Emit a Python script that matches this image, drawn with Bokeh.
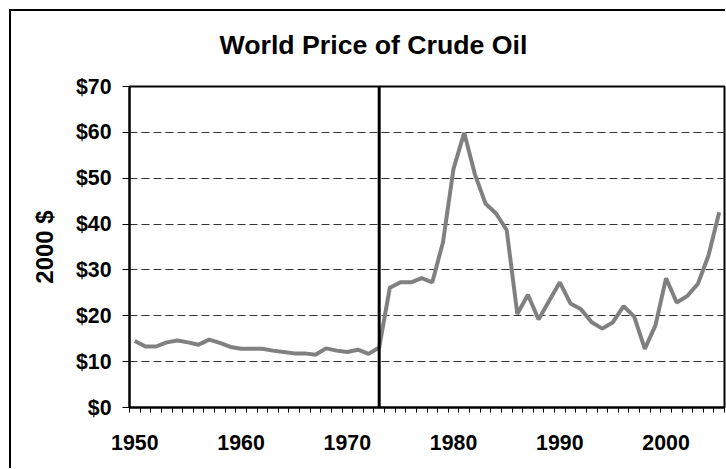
from bokeh.plotting import figure
from bokeh.models import (FixedTicker, Span, Range1d, InlineStyleSheet,
                          PrintfTickFormatter, ColumnDataSource)
from bokeh.embed import file_html
from bokeh.resources import INLINE

title_text = "World Price of Crude Oil"
y_label = "2000 $"

years = [1950, 1951, 1952, 1953, 1954, 1955, 1956, 1957, 1958, 1959,
         1960, 1961, 1962, 1963, 1964, 1965, 1966, 1967, 1968, 1969,
         1970, 1971, 1972, 1973, 1974, 1975, 1976, 1977, 1978, 1979,
         1980, 1981, 1982, 1983, 1984, 1985, 1986, 1987, 1988, 1989,
         1990, 1991, 1992, 1993, 1994, 1995, 1996, 1997, 1998, 1999,
         2000, 2001, 2002, 2003, 2004, 2005]
price = [14.5, 13.3, 13.3, 14.2, 14.6, 14.2, 13.7, 14.8, 14.1, 13.2,
         12.8, 12.8, 12.8, 12.4, 12.1, 11.8, 11.8, 11.5, 12.9, 12.4,
         12.1, 12.6, 11.7, 13.1, 26.1, 27.3, 27.3, 28.2, 27.3, 36.0,
         52.1, 59.9, 50.9, 44.5, 42.3, 38.7, 20.4, 24.6, 19.2, 23.3,
         27.3, 22.7, 21.4, 18.6, 17.2, 18.6, 22.1, 19.8, 12.8, 17.9,
         28.2, 22.9, 24.3, 27.0, 33.2, 42.6]
label_years = [1950, 1960, 1970, 1980, 1990, 2000]
y_ticks = [0, 10, 20, 30, 40, 50, 60, 70]
event_year = 1973

FONT = "Liberation Sans"

src = ColumnDataSource(data=dict(year=years, price=price))

# outer chart border: two separate strokes, top edge and left edge
border_css = InlineStyleSheet(css="""
:host { position: relative; }
:host::before {
  content: "";
  position: absolute;
  left: 9px; top: 9px;
  width: 716px; height: 2px;
  background: #000;
  pointer-events: none;
  z-index: 100;
}
:host::after {
  content: "";
  position: absolute;
  left: 9px; top: 9px;
  width: 2px; height: 459px;
  background: #000;
  pointer-events: none;
  z-index: 100;
}
""")

p = figure(width=726, height=469, output_backend="svg", toolbar_location=None,
           x_range=Range1d(years[0] - 0.5, years[-1] + 0.5),
           y_range=Range1d(y_ticks[0], y_ticks[-1]),
           min_border_left=129, min_border_right=2,
           min_border_top=86, min_border_bottom=62,
           stylesheets=[border_css])

p.title.text = title_text
p.title.align = "left"
p.title.offset = 90
p.title.standoff = 53
p.title.text_font = FONT
p.title.text_font_style = "bold"
p.title.text_font_size = "26.7px"
p.title.text_color = "black"

p.background_fill_color = "white"
p.border_fill_color = "white"
p.outline_line_color = "black"
p.outline_line_width = 2

p.line(x="year", y="price", source=src, line_color="#808080", line_width=4)

p.add_layout(Span(location=event_year, dimension="height",
                  line_color="black", line_width=3))

# x axis
boundaries = [y - 0.5 for y in years] + [years[-1] + 0.5]
p.xaxis.ticker = FixedTicker(ticks=label_years, minor_ticks=boundaries)
p.xaxis.major_tick_out = 0
p.xaxis.major_tick_in = 0
p.xaxis.minor_tick_out = 5
p.xaxis.minor_tick_in = 0
p.xaxis.minor_tick_line_color = "black"
p.xaxis.minor_tick_line_width = 1
p.xaxis.axis_line_width = 2
p.xaxis.axis_line_color = "black"
p.xaxis.major_label_standoff = 22
p.xaxis.major_label_text_font = FONT
p.xaxis.major_label_text_font_style = "bold"
p.xaxis.major_label_text_font_size = "21.3px"
p.xaxis.major_label_text_color = "black"

# y axis
p.yaxis.ticker = FixedTicker(ticks=y_ticks, minor_ticks=[])
p.yaxis.formatter = PrintfTickFormatter(format="$%d")
p.yaxis.major_tick_out = 7
p.yaxis.major_tick_in = 0
p.yaxis.major_tick_line_width = 1
p.yaxis.major_tick_line_color = "black"
p.yaxis.axis_line_width = 2
p.yaxis.axis_line_color = "black"
p.yaxis.major_label_standoff = 11
p.yaxis.major_label_text_font = FONT
p.yaxis.major_label_text_font_style = "bold"
p.yaxis.major_label_text_font_size = "21.3px"
p.yaxis.major_label_text_color = "black"
p.yaxis.axis_label = y_label
p.yaxis.axis_label_standoff = 15
p.yaxis.axis_label_text_font = FONT
p.yaxis.axis_label_text_font_style = "bold"
p.yaxis.axis_label_text_font_size = "24px"
p.yaxis.axis_label_text_color = "black"

p.xgrid.visible = False
p.ygrid.grid_line_color = "#333333"
p.ygrid.grid_line_dash = "8 4"
p.ygrid.grid_line_width = 1

open("out.html", "w").write(file_html(p, INLINE))
